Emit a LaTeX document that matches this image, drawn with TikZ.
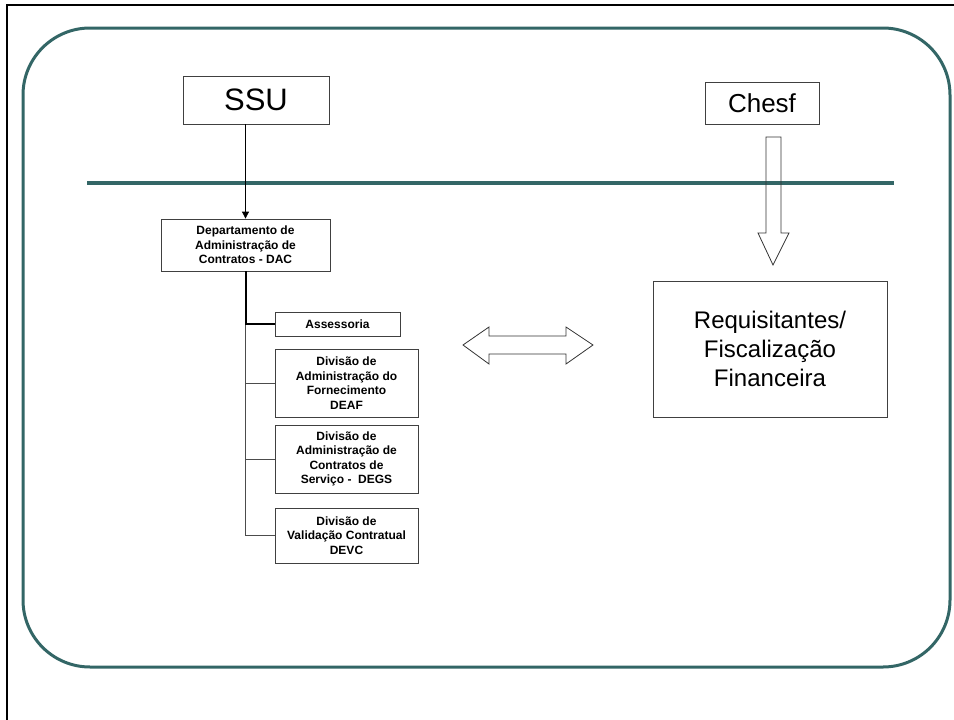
\documentclass[tikz,border=0pt]{standalone}
\usepackage{fontspec}
\setmainfont{Liberation Sans}
\usetikzlibrary{arrows.meta}
\definecolor{teal1}{RGB}{51,102,102}
\begin{document}
\begin{tikzpicture}[x=1pt,y=-1pt,
  box/.style={draw=black!75,line width=0.8pt,inner sep=0pt,align=center,text=black},
  smallbox/.style={box,font=\bfseries\fontsize{12}{14.5}\selectfont},
  bigbox/.style={box},
  tealline/.style={draw=teal1},
  conn/.style={draw=black!70,line width=0.8pt},
  thickconn/.style={draw=black,line width=2pt},
  blockarrow/.style={draw=black!80,line width=0.8pt}]
\useasboundingbox (0,0) rectangle (954,720);
% frame
\draw[line width=2pt] (7,720) -- (7,5) -- (954,5);
\draw[tealline,line width=3pt,rounded corners=67pt] (23,28) rectangle (950,667);
\draw[tealline,line width=4.5pt] (87,183) -- (894,183);
% nodes
\node[bigbox,minimum width=146pt,minimum height=48pt,font=\fontsize{31}{36}\selectfont] (ssu) at (256,100) {SSU};
\node[bigbox,minimum width=114pt,minimum height=42pt,font=\fontsize{26}{30}\selectfont] (chesf) at (762,103) {Chesf};
\node[smallbox,minimum width=169pt,minimum height=52pt] (dac) at (245.5,245) {Departamento de\\Administração de\\Contratos - DAC};
\node[smallbox,minimum width=125pt,minimum height=24pt] (ass) at (337.5,324) {Assessoria};
\node[smallbox,minimum width=143pt,minimum height=68pt] (deaf) at (346.5,383) {Divisão de\\Administração do\\Fornecimento\hspace*{14pt}\\DEAF};
\node[smallbox,minimum width=143pt,minimum height=68pt] (degs) at (346.5,459) {Divisão de\\Administração de\\Contratos de\\Serviço -\ \ DEGS};
\node[smallbox,minimum width=143pt,minimum height=55pt] (devc) at (346.5,535.5) {Divisão de\\Validação Contratual\\DEVC};
\node[bigbox,minimum width=234pt,minimum height=136pt,font=\fontsize{24}{29}\selectfont] (req) at (770,349) {Requisitantes/\\Fiscalização\\Financeira};
% connectors
\draw[line width=0.8pt,-{Triangle[length=7pt,width=7pt]}] (ssu.south -| dac.north) -- (dac.north);
\draw[conn] (dac.south |- ass.west) |- (devc.west);
\draw[conn] (dac.south |- deaf.west) -- (deaf.west);
\draw[conn] (dac.south |- degs.west) -- (degs.west);
\draw[thickconn] (dac.south) |- (ass.west);
% block arrows
\draw[blockarrow] (766,137) -- (781,137) -- (781,233) -- (789,233) -- (773,265) -- (758,233) -- (766,233) -- cycle;
\draw[blockarrow] (463,345) -- (489,327) -- (489,336) -- (566,336) -- (566,327) -- (593,345) -- (566,364) -- (566,354) -- (489,354) -- (489,364) -- cycle;
\end{tikzpicture}
\end{document}
